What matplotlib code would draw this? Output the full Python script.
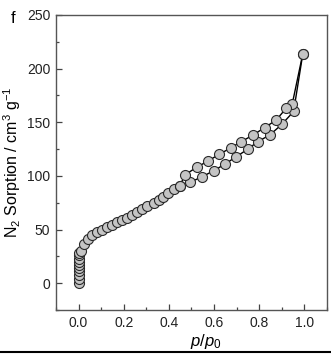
import numpy as np
import matplotlib
matplotlib.use("Agg")
import matplotlib.pyplot as plt
from matplotlib.lines import Line2D
from matplotlib.ticker import MultipleLocator

plt.rcParams['font.family'] = ['Liberation Sans', 'DejaVu Sans']
plt.rcParams['mathtext.fontset'] = 'custom'
plt.rcParams['mathtext.rm'] = 'Liberation Sans'
plt.rcParams['mathtext.it'] = 'Liberation Sans:italic'

# N2 isotherm: adsorption branch (rising p/p0)
p_ads = [0.0, 0.0, 0.0, 0.0, 0.0, 0.0, 0.0, 0.0, 0.0, 0.0,
         0.009, 0.023, 0.041, 0.060, 0.082, 0.104, 0.126, 0.148, 0.170,
         0.192, 0.214, 0.237, 0.259, 0.281, 0.303, 0.332, 0.354, 0.376,
         0.398, 0.424, 0.449, 0.493, 0.545, 0.600, 0.648, 0.699, 0.750,
         0.794, 0.846, 0.900, 0.952, 0.993]
v_ads = [0, 4, 8, 11, 14, 17, 20, 23, 26, 28,
         30, 37, 41, 45, 48, 50, 52, 54, 57,
         59, 61, 64, 66, 69, 72, 75, 78, 80,
         84, 88, 91, 94, 99, 105, 111, 118, 125,
         132, 138, 148, 160, 214]

# desorption branch (falling p/p0)
p_des = [0.993, 0.946, 0.919, 0.875, 0.824, 0.772, 0.721, 0.673,
         0.622, 0.574, 0.523, 0.471, 0.449]
v_des = [214, 167, 163, 152, 145, 138, 132, 126,
         120, 114, 108, 101, 91]

fig = plt.figure(figsize=(3.31, 3.54), dpi=100)
ax = fig.add_axes([0.169, 0.124, 0.819, 0.834])

mk = dict(marker='o', markersize=7.2, markerfacecolor='#c4c4c4',
          markeredgecolor='#2a2a2a', markeredgewidth=0.8,
          color='black', linewidth=1.0)
ax.plot(p_ads, v_ads, **mk)
ax.plot(p_des, v_des, **mk)

ax.set_xlim(-0.1, 1.1)
ax.set_ylim(-25, 250)
ax.xaxis.set_major_locator(MultipleLocator(0.2))
ax.xaxis.set_minor_locator(MultipleLocator(0.1))
ax.yaxis.set_major_locator(MultipleLocator(50))
ax.yaxis.set_minor_locator(MultipleLocator(25))
ax.set_xticks([0.0, 0.2, 0.4, 0.6, 0.8, 1.0])
ax.set_xticklabels(['0.0', '0.2', '0.4', '0.6', '0.8', '1.0'])

ax.tick_params(which='both', direction='in', colors='#444444',
               labelcolor='#222222', labelsize=10, top=False, right=False)
ax.tick_params(which='major', length=4, width=0.9, pad=4)
ax.tick_params(which='minor', length=2.5, width=0.9)
for s in ax.spines.values():
    s.set_color('#555555')
    s.set_linewidth(1.0)

ax.set_ylabel(r'N$_2$ Sorption / cm$^3$ g$^{-1}$', fontsize=11.5)
ax.yaxis.set_label_coords(-0.12, 0.5)
ax.set_xlabel(r'$p/p_{\mathit{0}}$', fontsize=12)
ax.xaxis.set_label_coords(0.553, -0.075)

fig.text(0.038, 0.947, 'f', fontsize=12, ha='center', va='center')

# thin rule along the bottom edge of the panel
fig.add_artist(Line2D([0, 1], [0.006, 0.006], color='black',
                      linewidth=1.5, transform=fig.transFigure))

fig.savefig('out.png', dpi=100)
